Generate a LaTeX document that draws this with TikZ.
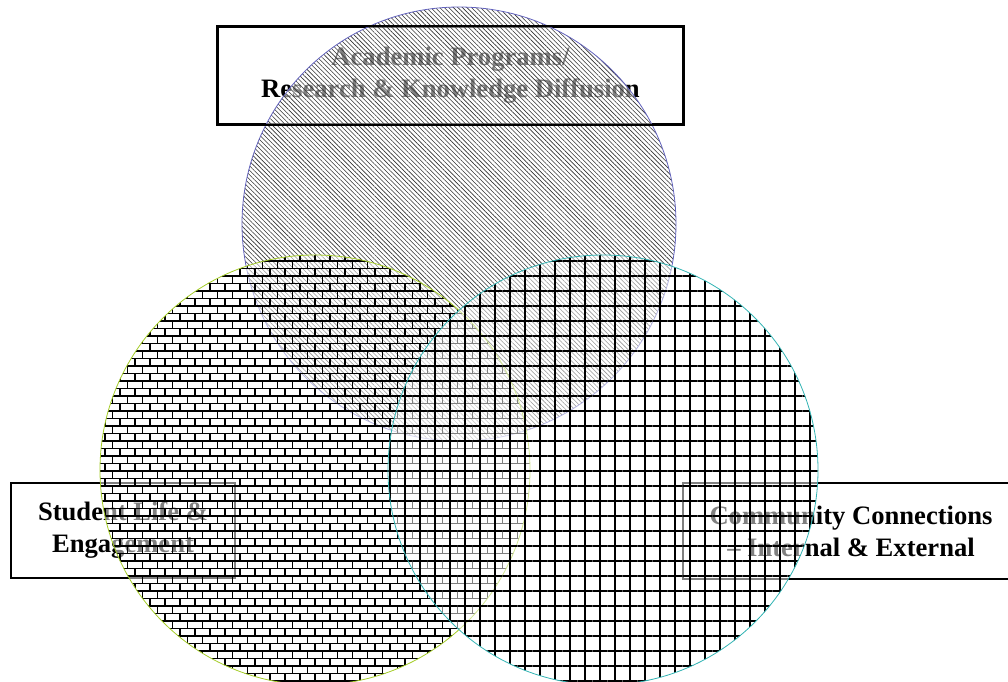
\documentclass[tikz,border=0pt]{standalone}
\usepackage{fontspec}
\setmainfont{Liberation Serif}
\usetikzlibrary{patterns,patterns.meta}
\pgfdeclarepatternformonly{refbricks}{\pgfqpoint{-1pt}{-1pt}}{\pgfqpoint{16pt}{16pt}}{\pgfqpoint{15pt}{15pt}}{%
  \pgfsetlinewidth{1.6pt}%
  \pgfpathmoveto{\pgfqpoint{0pt}{0pt}}\pgfpathlineto{\pgfqpoint{15pt}{0pt}}%
  \pgfpathmoveto{\pgfqpoint{0pt}{7.5pt}}\pgfpathlineto{\pgfqpoint{15pt}{7.5pt}}%
  \pgfpathmoveto{\pgfqpoint{0pt}{0pt}}\pgfpathlineto{\pgfqpoint{0pt}{7.5pt}}%
  \pgfpathmoveto{\pgfqpoint{7.5pt}{7.5pt}}\pgfpathlineto{\pgfqpoint{7.5pt}{15pt}}%
  \pgfusepath{stroke}}
\definecolor{topc}{RGB}{100,100,190}
\definecolor{leftc}{RGB}{165,205,40}
\definecolor{rightc}{RGB}{50,180,180}
\tikzset{
  lblbox/.style={draw=black, line width=2pt, fill=white, inner sep=0pt, align=center,
     font=\bfseries\fontsize{26.6}{32}\selectfont},
  venn/.style={circle, inner sep=0pt, minimum size=#1, line width=0.8pt,
     preaction={fill=white, fill opacity=0.5}},
  hatchfill/.style={pattern={Lines[angle=-45,distance=3.2pt,line width=0.6pt]}, pattern color=black!80},
  brickfill/.style={pattern=refbricks, pattern color=black},
  gridfill/.style={pattern={Hatch[angle=0,distance=15pt,line width=1.6pt]}, pattern color=black}
}
\begin{document}
\begin{tikzpicture}[x=1pt,y=-1pt]
\useasboundingbox (0,0) rectangle (1008,681);
% label boxes (under the circles)
\node[lblbox, minimum width=465pt, minimum height=97pt] (topbox) at (450.5,75.5)
  {Academic Programs/\\Research \& Knowledge Diffusion};
\node[lblbox, minimum width=224pt, minimum height=95pt] (leftbox) at (123,530.5)
  {Student Life \&\\Engagement};
\node[lblbox, minimum width=336pt, minimum height=96pt] (rightbox) at (851,531)
  {Community Connections\\– Internal \& External};
% circles
\node[venn=434pt, draw=topc, hatchfill] (acad) at (459,224) {};
\node[venn=430pt, draw=leftc, brickfill] (student) at (315,470) {};
\node[venn=430pt, draw=rightc, gridfill] (community) at (603,470) {};
% top box border drawn over
\draw[line width=2pt] (topbox.north west) rectangle (topbox.south east);
\end{tikzpicture}
\end{document}
